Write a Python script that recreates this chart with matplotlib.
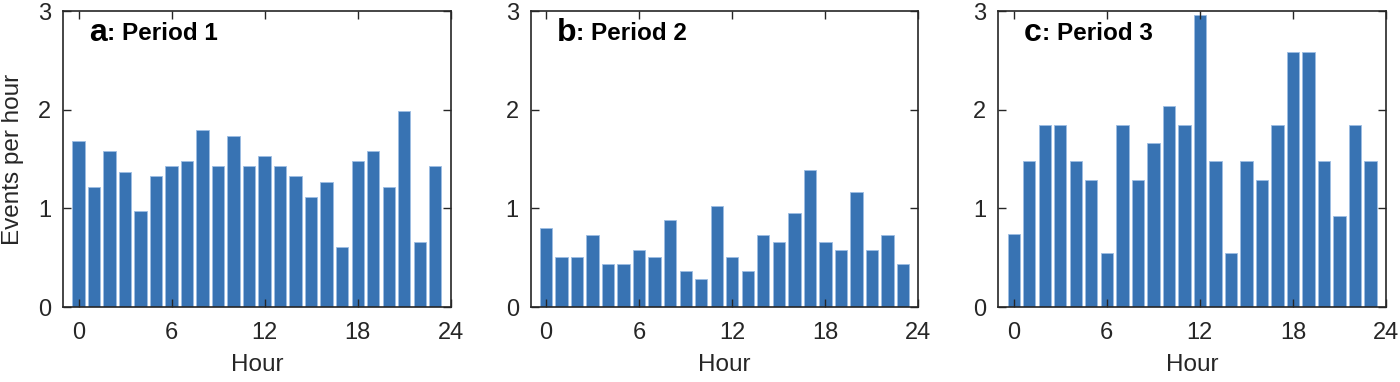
import numpy as np
import matplotlib.pyplot as plt

plt.rcParams['font.family'] = ['Liberation Sans', 'DejaVu Sans']

# 每小時事件數 (三個時段)
hours = np.arange(24)
period1 = [1.68, 1.22, 1.58, 1.37, 0.97, 1.33, 1.43, 1.48, 1.79, 1.43, 1.73, 1.43,
           1.53, 1.43, 1.33, 1.12, 1.27, 0.61, 1.48, 1.58, 1.22, 1.99, 0.66, 1.43]
period2 = [0.80, 0.51, 0.51, 0.73, 0.44, 0.44, 0.58, 0.51, 0.88, 0.37, 0.29, 1.02,
           0.51, 0.37, 0.73, 0.66, 0.95, 1.39, 0.66, 0.58, 1.17, 0.58, 0.73, 0.44]
period3 = [0.74, 1.48, 1.85, 1.85, 1.48, 1.29, 0.55, 1.85, 1.29, 1.66, 2.04, 1.85,
           2.96, 1.48, 0.55, 1.48, 1.29, 1.85, 2.59, 2.59, 1.48, 0.92, 1.85, 1.48]
letters = ['a', 'b', 'c']
titles = [': Period 1', ': Period 2', ': Period 3']
xticks = [0, 6, 12, 18, 24]
yticks = [0, 1, 2, 3]

barColor = '#3873b3'
axColor = '#262626'

fig = plt.figure(figsize=(14, 3.82), dpi=100)
lefts = [0.045, 0.379, 0.713]
for i, data in enumerate([period1, period2, period3]):
    ax = fig.add_axes([lefts[i], 0.196, 0.277, 0.775])
    ax.bar(hours, data, width=0.8, color=barColor, edgecolor='#9dbde3', linewidth=0.6)
    ax.set_xlim(-1, 24)
    ax.set_ylim(0, 3)
    ax.set_xticks(xticks)
    ax.set_yticks(yticks)
    ax.tick_params(direction='in', top=True, right=True, length=6, width=1,
                   color=axColor, labelcolor=axColor, labelsize=17)
    ax.tick_params(axis='x', pad=11)
    ax.tick_params(axis='y', pad=8.5)
    for sp in ax.spines.values():
        sp.set_color(axColor)
        sp.set_linewidth(1.2)
    ax.set_xlabel('Hour', fontsize=17.5, color=axColor, labelpad=7)
    if i == 0:
        ax.set_ylabel('Events per hour', fontsize=17.5, color=axColor, labelpad=10)
    # 面板標籤
    t = ax.text(0.067, 0.925, letters[i], transform=ax.transAxes, fontsize=23,
                fontweight='bold', va='center', ha='left')
    fig.canvas.draw()
    bb = t.get_window_extent().transformed(ax.transAxes.inverted())
    ax.text(bb.x1, 0.925, titles[i], transform=ax.transAxes, fontsize=17.5,
            fontweight='bold', va='center', ha='left')

plt.savefig('out.png', dpi=100)
